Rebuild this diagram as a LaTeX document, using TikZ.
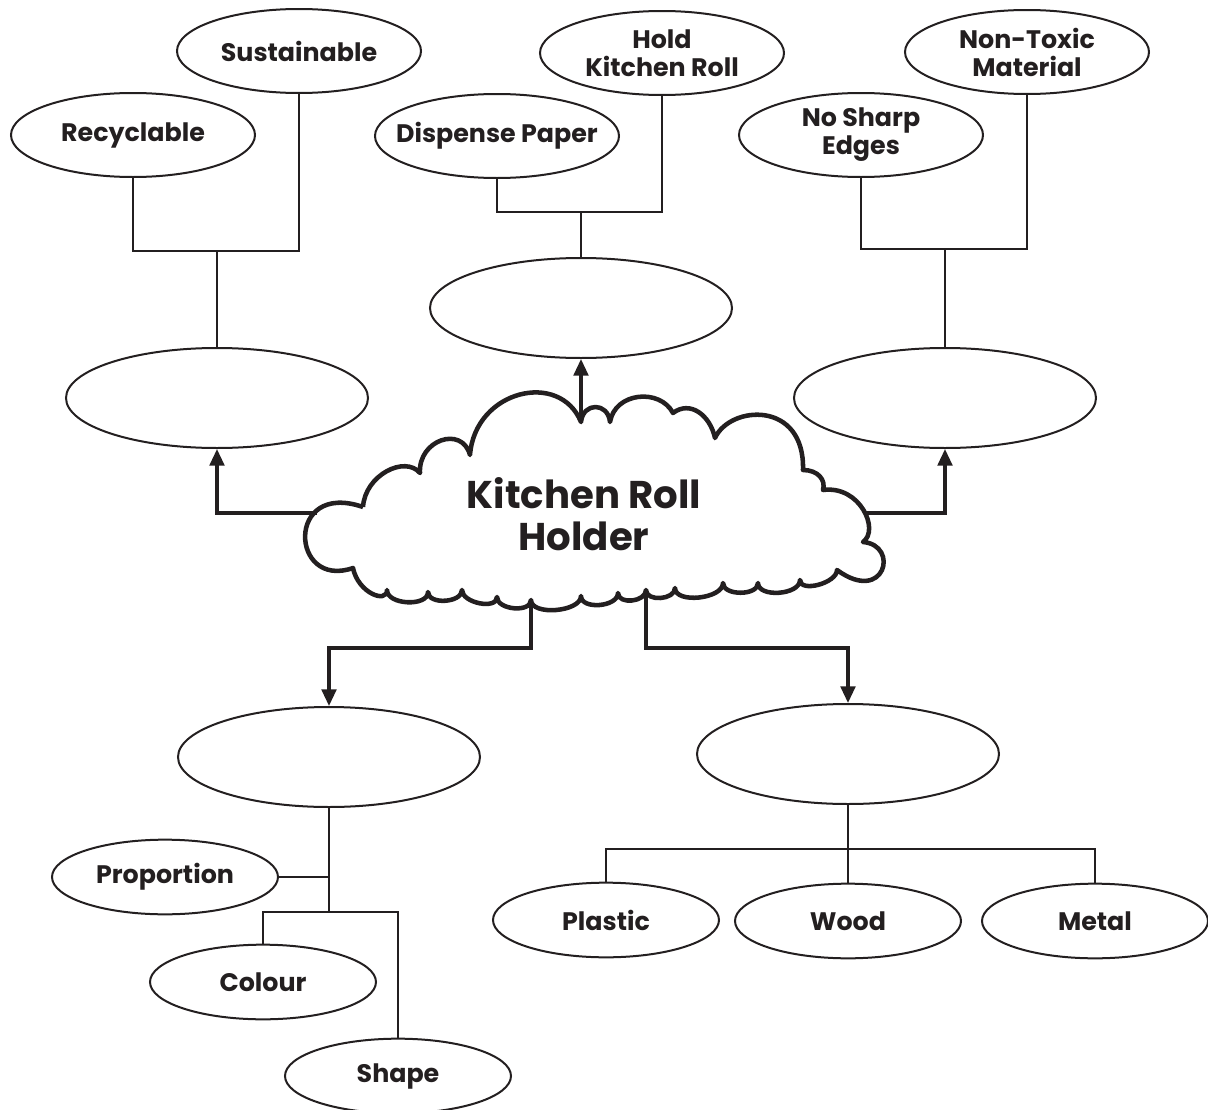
\documentclass[tikz,border=0pt]{standalone}
\usepackage{fontspec}
\setmainfont{Poppins}
\usetikzlibrary{shapes.geometric,arrows.meta}
\definecolor{ink}{HTML}{231F20}
\tikzset{
  lbl/.style={ellipse, draw=ink, line width=1.5pt, inner xsep=-30pt, inner ysep=0pt, align=center,
    text=ink, font=\fontsize{19}{21}\selectfont\bfseries},
  sm/.style={lbl, minimum width=183pt, minimum height=63pt},
  blank/.style={lbl, minimum width=226.5pt, minimum height=75pt},
  leaf/.style={lbl, minimum width=169.5pt, minimum height=56pt},
  conn/.style={draw=ink, line width=1.5pt},
  arr/.style={draw=ink, line width=2.4pt, -{Triangle[length=12.5pt,width=11pt]}},
  cloudline/.style={draw=ink, line width=3.4pt, line join=round},
}
\begin{document}
\begin{tikzpicture}[x=0.75pt, y=-0.75pt]
\useasboundingbox (0,0) rectangle (1208,1110);
% cloud
\draw[cloudline] (363,507)
  .. controls (365,475) and (405,455) .. (420,473)
  .. controls (418,440) and (462,425) .. (470,455)
  .. controls (475,390) and (560,370) .. (581,422)
  .. controls (583,402) and (608,402) .. (610,422)
  .. controls (615,392) and (660,388) .. (673,413)
  .. controls (690,400) and (710,415) .. (715,438)
  .. controls (730,405) and (805,400) .. (803,470)
  .. controls (818,470) and (826,480) .. (823,490)
  .. controls (860,485) and (880,530) .. (863,542)
  .. controls (900,545) and (885,605) .. (837,570)
  .. controls +(0,13) and +(0,13) .. (800,580)
  .. controls +(0,15) and +(0,15) .. (758,583)
  .. controls +(0,13) and +(0,13) .. (723,583)
  .. controls +(0,16) and +(0,16) .. (675,588)
  .. controls +(0,12) and +(0,12) .. (646,590)
  .. controls +(0,12) and +(0,12) .. (618,593)
  .. controls +(0,14) and +(0,14) .. (581,596)
  .. controls +(0,16) and +(0,16) .. (531,600)
  .. controls +(0,13) and +(0,13) .. (497,597)
  .. controls +(0,13) and +(0,13) .. (462,590)
  .. controls +(0,13) and +(0,13) .. (428,592)
  .. controls +(0,15) and +(0,15) .. (387,590)
  .. controls +(0,14) and +(5,25) .. (353,568)
  .. controls (290,590) and (285,480) .. (363,507);
\node[text=ink, align=center, font=\fontsize{29}{31.5}\selectfont\bfseries] (title) at (584,514) {Kitchen Roll\\Holder};
\coordinate (cl) at (317,513);
\coordinate (cr) at (866,513);
\coordinate (ct) at (581,422);
\coordinate (cb1) at (531,600);
\coordinate (cb2) at (646,590);

% top nodes
\node[sm] (sust) at (299,51) {Sustainable};
\node[sm] (recy) at (133,135) {Recyclable};
\node[sm] (disp) at (497,136) {Dispense Paper};
\node[sm] (hold) at (662,53) {Hold\\Kitchen Roll};
\node[sm] (nontox) at (1027,52) {Non-Toxic\\Material};
\node[sm] (nosharp) at (861,135) {No Sharp\\Edges};

% blank nodes
\node[blank] (bl) at (217,398) {};
\node[blank] (bt) at (581,308) {};
\node[blank] (br) at (945,398) {};
\node[blank] (bbl) at (329,757) {};
\node[blank] (bbr) at (848,754) {};

% bottom leaves
\node[leaf] (prop) at (165,877) {Proportion};
\node[leaf] (colour) at (263,982) {Colour};
\node[leaf] (shape) at (398,1076) {Shape};
\node[leaf] (plastic) at (606,920) {Plastic};
\node[leaf] (wood) at (848,921) {Wood};
\node[leaf] (metal) at (1095,921) {Metal};

% junctions
\coordinate (j1) at (217,251);
\coordinate (j2) at (581,212);
\coordinate (j3) at (945,249);
\coordinate (j4) at (329,877);
\coordinate (j5) at (329,912);
\coordinate (j6) at (848,849);
\coordinate (k1) at (531,648);
\coordinate (k2) at (646,648);

% connectors
\draw[conn] (recy.south) |- (j1) -| (sust.south);
\draw[conn] (j1) -- (bl.north);
\draw[conn] (disp.south) |- (j2) -| (hold.south);
\draw[conn] (j2) -- (bt.north);
\draw[conn] (nosharp.south) |- (j3) -| (nontox.south);
\draw[conn] (j3) -- (br.north);
\draw[conn] (bbl.south) -- (j5);
\draw[conn] (prop.east) -- (j4);
\draw[conn] (colour.north) |- (j5) -| (shape.north);
\draw[conn] (bbr.south) -- (j6);
\draw[conn] (plastic.north) |- (j6) -| (metal.north);
\draw[conn] (wood.north) -- (j6);

% arrows
\draw[arr] (cl) -| (bl.south);
\draw[arr] (cr) -| (br.south);
\draw[arr] (ct) -- (bt.south);
\draw[arr] (cb1) -- (k1) -| (bbl.north);
\draw[arr] (cb2) -- (k2) -| (bbr.north);
\end{tikzpicture}
\end{document}
